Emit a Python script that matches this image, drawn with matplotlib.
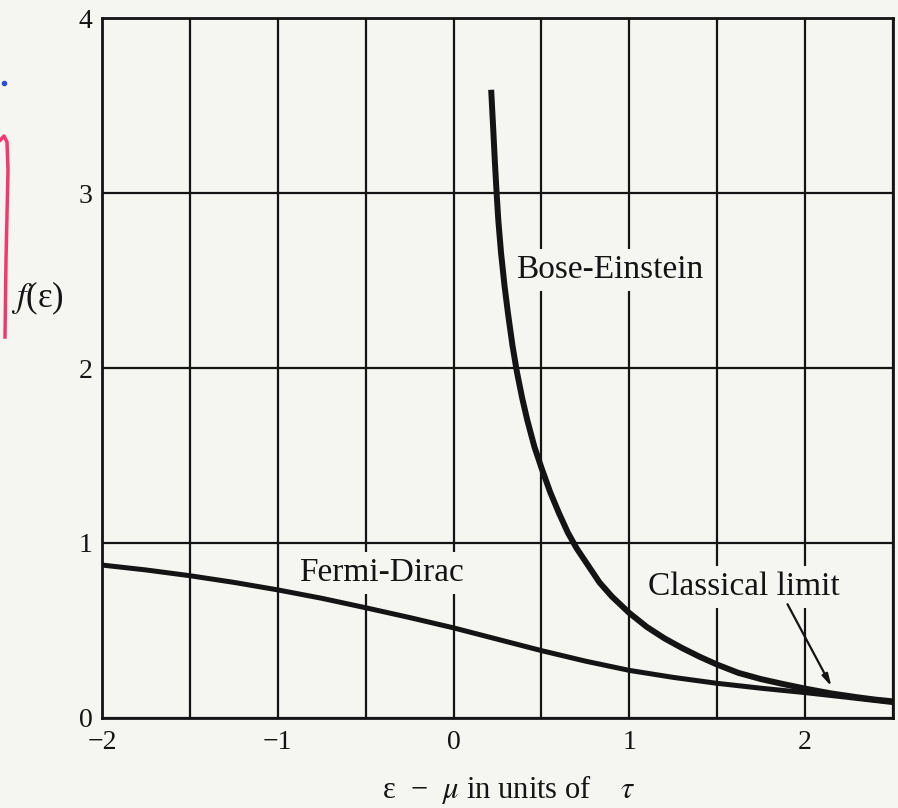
import matplotlib
matplotlib.use('Agg')
import matplotlib.pyplot as plt
from matplotlib.lines import Line2D
from matplotlib.ticker import MultipleLocator

plt.rcParams['font.family'] = ['Liberation Serif', 'DejaVu Serif']
plt.rcParams['mathtext.fontset'] = 'stix'

# occupancy f(e) against (e - mu)/tau
x_be = [0.214, 0.225, 0.235, 0.245, 0.255, 0.27, 0.29, 0.31, 0.335, 0.36,
        0.39, 0.42, 0.46, 0.50, 0.55, 0.60, 0.65, 0.70, 0.76, 0.83,
        0.90, 1.00, 1.10, 1.20, 1.30, 1.40, 1.50, 1.62, 1.75, 1.88,
        2.00, 2.15, 2.30, 2.40, 2.50]
f_be = [3.59, 3.38, 3.18, 3.00, 2.84, 2.66, 2.47, 2.31, 2.13, 1.98,
        1.83, 1.70, 1.55, 1.43, 1.29, 1.17, 1.06, 0.97, 0.88, 0.775,
        0.695, 0.60, 0.52, 0.455, 0.40, 0.35, 0.305, 0.258, 0.222, 0.193,
        0.168, 0.14, 0.118, 0.105, 0.095]

x_fd = [-2.0, -1.75, -1.5, -1.25, -1.0, -0.75, -0.5, -0.25, 0.0, 0.25,
        0.5, 0.75, 1.0, 1.25, 1.5, 1.75, 2.0, 2.25, 2.5]
f_fd = [0.874, 0.846, 0.813, 0.775, 0.732, 0.684, 0.630, 0.574, 0.515, 0.450,
        0.385, 0.325, 0.272, 0.232, 0.198, 0.170, 0.145, 0.117, 0.088]

x_ticks = [-2, -1, 0, 1, 2]
y_ticks = [0, 1, 2, 3, 4]

paper = '#f5f5f2'
ink = '#141414'

fig = plt.figure(figsize=(8.98, 8.08), dpi=100, facecolor=paper)
ax = fig.add_axes([0.1136, 0.1114, 0.8808, 0.8663])
ax.set_facecolor(paper)
ax.set_xlim(-2, 2.5)
ax.set_ylim(0, 4)
ax.set_xticks(x_ticks)
ax.set_yticks(y_ticks)
ax.xaxis.set_minor_locator(MultipleLocator(0.5))
ax.grid(which='both', color=ink, lw=1.6)
ax.tick_params(which='both', length=0, labelsize=20, colors=ink)
ax.tick_params(axis='x', pad=9)
ax.tick_params(axis='y', pad=7)
for s in ax.spines.values():
    s.set_linewidth(2)
    s.set_color(ink)

# curves sit above the label boxes so the boxes only break the grid
ax.plot(x_be, f_be, color=ink, lw=4.3, solid_capstyle='butt',
        solid_joinstyle='round', zorder=4)
ax.plot(x_fd, f_fd, color=ink, lw=3.6, solid_capstyle='butt',
        solid_joinstyle='round', zorder=4)

box = dict(facecolor=paper, edgecolor='none', pad=4)
ax.text(0.89, 2.56, 'Bose-Einstein', fontsize=24, ha='center', va='center',
        color=ink, bbox=box, zorder=3)
ax.text(-0.41, 0.83, 'Fermi-Dirac', fontsize=24, ha='center', va='center',
        color=ink, bbox=box, zorder=3)
ax.text(1.65, 0.75, 'Classical limit', fontsize=24, ha='center', va='center',
        color=ink, bbox=box, zorder=3)
ax.annotate('', xy=(2.15, 0.18), xytext=(1.90, 0.65),
            arrowprops=dict(arrowstyle='-|>,head_length=0.7,head_width=0.18',
                            color=ink, lw=1.6, shrinkA=0, shrinkB=0))

fig.text(509 / 898, 1 - 789 / 808, 'ε  −  $\\mu$ in units of    $\\tau$', fontsize=22,
         ha='center', va='center', color=ink)
ax.text(-2.37, 2.4, '$f$(ε)', fontsize=25, ha='center', va='center',
        color=ink, clip_on=False)

# pen marks in the margin
fig.add_artist(Line2D([0.5 / 898, 4 / 898, 7 / 898, 8 / 898, 6 / 898, 5 / 898],
                      [1 - 140 / 808, 1 - 136 / 808, 1 - 142 / 808, 1 - 170 / 808,
                       1 - 260 / 808, 1 - 337 / 808],
                      color='#f2386f', lw=2.5, transform=fig.transFigure))
fig.add_artist(Line2D([4 / 898], [1 - 83 / 808], marker='o', ms=3,
                      color='#2a4fd0', transform=fig.transFigure))

fig.savefig('out.png', dpi=100, facecolor=paper)
